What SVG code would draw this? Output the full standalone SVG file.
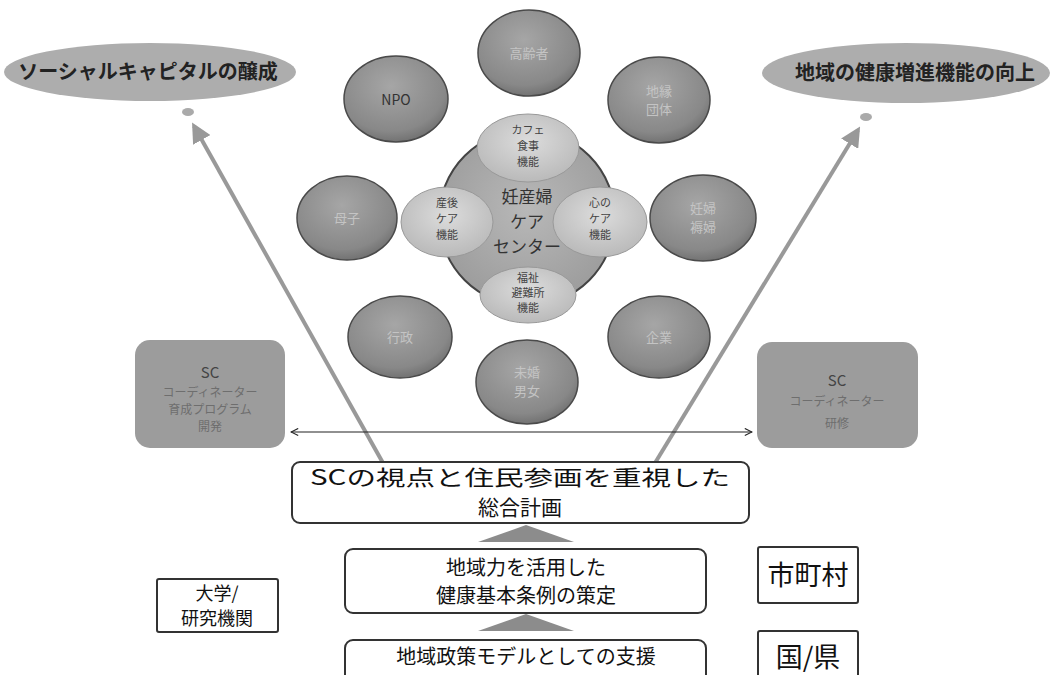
<svg xmlns="http://www.w3.org/2000/svg" width="1055" height="675" viewBox="0 0 1055 675">
<defs>
<radialGradient id="gDark" cx="0.45" cy="0.35" r="0.7">
<stop offset="0" stop-color="#a6a6a6"/>
<stop offset="0.75" stop-color="#888"/>
<stop offset="1" stop-color="#6a6a6a"/>
</radialGradient>
<radialGradient id="gLight" cx="0.5" cy="0.4" r="0.7">
<stop offset="0" stop-color="#dcdcdc"/>
<stop offset="1" stop-color="#b4b4b4"/>
</radialGradient>
<radialGradient id="gCenter" cx="0.5" cy="0.45" r="0.6">
<stop offset="0" stop-color="#b8b8b8"/>
<stop offset="1" stop-color="#9a9a9a"/>
</radialGradient>
<marker id="bigHead" viewBox="0 0 10 10" refX="8" refY="5" markerWidth="5" markerHeight="5" orient="auto" markerUnits="strokeWidth">
<path d="M0,0 L10,5 L0,10 z" fill="#999"/>
</marker>
<marker id="openHead" viewBox="0 0 10 10" refX="9" refY="5" markerWidth="9" markerHeight="9" orient="auto-start-reverse" markerUnits="userSpaceOnUse">
<path d="M1,1 L9,5 L1,9" fill="none" stroke="#222" stroke-width="1.2"/>
</marker>
</defs>
<style>
text{font-family:"Noto Sans CJK JP","Noto Sans",sans-serif;text-anchor:middle}
.goal{fill:#adadad}
.goalT{font-size:20px;font-weight:bold;fill:#222}
.dark{fill:url(#gDark);stroke:#4a4a4a;stroke-width:1.5}
.darkT{font-size:13px;fill:#c4c4c4}
.light{fill:url(#gLight);stroke:#999;stroke-width:1}
.lightT{font-size:11px;fill:#444}
.ctr{font-size:17px;fill:#333}
.sc{fill:#9c9c9c}
.scT{font-size:15px;fill:#444}
.scS{font-size:12px;fill:#6e6e6e}
.box{fill:#fff;stroke:#333;stroke-width:2}
.boxT{font-size:22px;fill:#111}
.tri{fill:#8c8c8c}
.big{stroke:#999;stroke-width:4;fill:none}
</style>
<rect width="1055" height="675" fill="#fff"/>

<g id="goal-left">
<ellipse class="goal" cx="150" cy="72" rx="146" ry="29"/>
<text class="goalT" x="148" y="79">ソーシャルキャピタルの醸成</text>
<ellipse cx="188" cy="112" rx="6" ry="4" fill="#aaa"/>
</g>
<g id="goal-right">
<ellipse class="goal" cx="906" cy="73" rx="144" ry="30"/>
<text class="goalT" x="915" y="80">地域の健康増進機能の向上</text>
<ellipse cx="866" cy="117" rx="6" ry="4" fill="#aaa"/>
</g>

<g id="n-koreisha"><ellipse class="dark" cx="529" cy="53" rx="51" ry="43"/><text class="darkT" x="529" y="58">高齢者</text></g>
<g id="n-npo"><ellipse class="dark" cx="396" cy="99" rx="52" ry="43"/><text class="darkT" x="396" y="105" style="fill:#333;font-size:14px">NPO</text></g>
<g id="n-chien"><ellipse class="dark" cx="659" cy="100" rx="51" ry="43"/><text class="darkT" x="659" y="96">地縁</text><text class="darkT" x="659" y="114">団体</text></g>
<g id="n-boshi"><ellipse class="dark" cx="347" cy="218" rx="50" ry="42"/><text class="darkT" x="347" y="223">母子</text></g>
<g id="n-ninpu"><ellipse class="dark" cx="703" cy="218" rx="53" ry="43"/><text class="darkT" x="703" y="213">妊婦</text><text class="darkT" x="703" y="232">褥婦</text></g>
<g id="n-gyosei"><ellipse class="dark" cx="400" cy="337" rx="52" ry="41"/><text class="darkT" x="400" y="342">行政</text></g>
<g id="n-kigyo"><ellipse class="dark" cx="659" cy="337" rx="51" ry="41"/><text class="darkT" x="659" y="342">企業</text></g>
<g id="n-mikon"><ellipse class="dark" cx="527" cy="382" rx="51" ry="42"/><text class="darkT" x="527" y="377">未婚</text><text class="darkT" x="527" y="396">男女</text></g>

<g id="center">
<circle cx="527" cy="218" r="88" fill="url(#gCenter)" stroke="#444" stroke-width="2"/>
<text class="ctr" x="527" y="203">妊産婦</text>
<text class="ctr" x="527" y="228">ケア</text>
<text class="ctr" x="527" y="253">センター</text>
</g>
<g id="f-cafe"><ellipse class="light" cx="528" cy="148" rx="51" ry="34"/><text class="lightT" x="528" y="134">カフェ</text><text class="lightT" x="528" y="150">食事</text><text class="lightT" x="528" y="166">機能</text></g>
<g id="f-sango"><ellipse class="light" cx="447" cy="222" rx="46" ry="35"/><text class="lightT" x="447" y="207">産後</text><text class="lightT" x="447" y="223">ケア</text><text class="lightT" x="447" y="239">機能</text></g>
<g id="f-kokoro"><ellipse class="light" cx="600" cy="222" rx="47" ry="35"/><text class="lightT" x="600" y="207">心の</text><text class="lightT" x="600" y="223">ケア</text><text class="lightT" x="600" y="239">機能</text></g>
<g id="f-fukushi"><ellipse class="light" cx="528" cy="295" rx="48" ry="28"/><text class="lightT" x="528" y="282">福祉</text><text class="lightT" x="528" y="297">避難所</text><text class="lightT" x="528" y="312">機能</text></g>

<g id="sc-left">
<rect class="sc" x="135" y="340" width="150" height="108" rx="15"/>
<text class="scT" x="210" y="378">SC</text>
<text class="scS" x="210" y="397">コーディネーター</text>
<text class="scS" x="210" y="414">育成プログラム</text>
<text class="scS" x="210" y="431">開発</text>
</g>
<g id="sc-right">
<rect class="sc" x="757" y="342" width="161" height="106" rx="15"/>
<text class="scT" x="837" y="386">SC</text>
<text class="scS" x="837" y="406">コーディネーター</text>
<text class="scS" x="837" y="428">研修</text>
</g>

<g id="connectors">
<line class="big" x1="383" y1="463" x2="194" y2="126" marker-end="url(#bigHead)"/>
<line class="big" x1="655" y1="463" x2="858" y2="130" marker-end="url(#bigHead)"/>
<line x1="291" y1="432" x2="752" y2="432" stroke="#222" stroke-width="1.2" marker-start="url(#openHead)" marker-end="url(#openHead)"/>
<polygon class="tri" points="478,542 526,525 574,542"/>
<polygon class="tri" points="478,631 526,614 574,631"/>
</g>

<g id="plan">
<rect class="box" x="292" y="462" width="457" height="61" rx="8"/>
<text class="boxT" x="520" y="485" style="font-size:21px" textLength="420" lengthAdjust="spacingAndGlyphs">SCの視点と住民参画を重視した</text>
<text class="boxT" x="520" y="515" style="font-size:21px">総合計画</text>
</g>
<g id="jorei">
<rect class="box" x="345" y="549" width="361" height="64" rx="8"/>
<text class="boxT" x="526" y="575" style="font-size:20px">地域力を活用した</text>
<text class="boxT" x="526" y="603" style="font-size:20px">健康基本条例の策定</text>
</g>
<g id="shien">
<rect class="box" x="345" y="640" width="361" height="45" rx="8"/>
<text class="boxT" x="526" y="664" style="font-size:20px">地域政策モデルとしての支援</text>
</g>
<g id="daigaku">
<rect class="box" x="157" y="579" width="121" height="53" rx="2"/>
<text class="boxT" x="217" y="600" style="font-size:18px">大学/</text>
<text class="boxT" x="217" y="625" style="font-size:18px">研究機関</text>
</g>
<g id="shichoson">
<rect class="box" x="758" y="547" width="100" height="56" rx="2"/>
<text class="boxT" x="808" y="585" style="font-size:27px">市町村</text>
</g>
<g id="kuniken">
<rect class="box" x="758" y="631" width="100" height="50" rx="2"/>
<text class="boxT" x="808" y="667" style="font-size:27px">国/県</text>
</g>
</svg>
